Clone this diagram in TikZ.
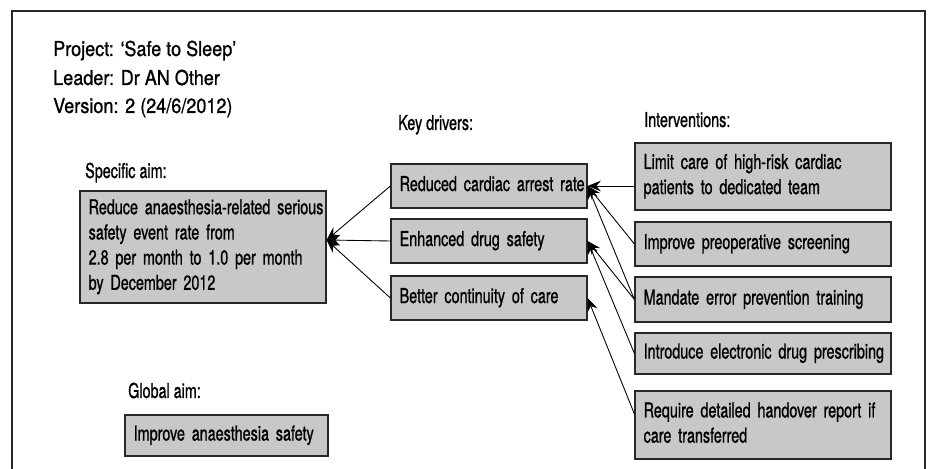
\documentclass[tikz,border=0pt]{standalone}
\usepackage{fontspec}
\setmainfont[FakeStretch=0.70,FakeBold=0.9]{TeX Gyre Heros}
\newfontfamily\headfont[FakeStretch=0.88,FakeBold=0.9]{TeX Gyre Heros}
\usepackage{tikz}
\usetikzlibrary{calc,arrows.meta}
\definecolor{boxfill}{RGB}{200,200,200}
\definecolor{edge}{RGB}{40,40,40}
% keep the given line breaks, never wrap
\newcommand{\rows}[1]{\begin{tabular}{@{}l@{}}#1\end{tabular}}

\begin{document}
\begin{tikzpicture}[>={Stealth[length=4mm,width=3.2mm,inset=1.4mm]},
  box/.style={draw=edge,line width=1pt,fill=boxfill,align=left,inner xsep=0.26cm,inner ysep=0pt,
    font=\fontsize{17.5}{21.5}\selectfont},
  lbl/.style={anchor=base west,inner sep=0pt,font=\fontsize{17.5}{21.5}\selectfont},
  head/.style={lbl,font=\headfont\fontsize{17.5}{21.5}\selectfont},
  conn/.style={->,line width=0.75pt}]
  \useasboundingbox (0,0) rectangle (28.02,14.07);
  \draw[edge,line width=1.2pt] (0.36,-0.5) -- (0.36,13.74) -- (27.75,13.74) -- (27.75,-0.5);
  % header
  \node[head] (proj) at (1.59,12.39) {Project: ‘Safe to Sleep’};
  \node[head] (lead) at (1.59,11.52) {Leader: Dr AN Other};
  \node[head] (vers) at (1.59,10.68) {Version: 2 (24/6/2012)};
  % column titles
  \node[lbl] (specT) at (2.55,8.73) {Specific aim:};
  \node[lbl] (globT) at (3.84,2.13) {Global aim:};
  \node[lbl] (drvT) at (11.94,10.17) {Key drivers:};
  \node[lbl] (intT) at (19.32,10.26) {Interventions:};
  % aims
  \node[box,text width=6.86cm,minimum height=3.36cm] (A) at (6.09,6.66)
    {\rows{Reduce anaesthesia-related serious\\safety event rate from\\2.8 per month to 1.0 per month\\by December 2012}};
  \node[box,text width=5.57cm,minimum height=1.23cm] (G) at (6.795,1.005) {\rows{Improve anaesthesia safety}};
  % key drivers
  \node[box,text width=5.36cm,minimum height=1.32cm] (D1) at (14.67,8.49) {\rows{Reduced cardiac arrest rate}};
  \node[box,text width=5.36cm,minimum height=1.32cm] (D2) at (14.67,6.84) {\rows{Enhanced drug safety}};
  \node[box,text width=5.36cm,minimum height=1.32cm] (D3) at (14.67,5.13) {\rows{Better continuity of care}};
  % interventions
  \node[box,text width=7.16cm,minimum height=2.01cm] (I1) at (22.89,8.775)
    {\rows{Limit care of high-risk cardiac\\patients to dedicated team}};
  \node[box,text width=7.16cm,minimum height=1.32cm] (I2) at (22.89,6.75) {\rows{Improve preoperative screening}};
  \node[box,text width=7.16cm,minimum height=1.35cm] (I3) at (22.89,5.085) {\rows{Mandate error prevention training}};
  \node[box,text width=7.16cm,minimum height=1.23cm] (I4) at (22.89,3.465) {\rows{Introduce electronic drug prescribing}};
  \node[box,text width=7.16cm,minimum height=2.04cm] (I5) at (22.89,1.32)
    {\rows{Require detailed handover report if\\care transferred}};
  % connectors
  \coordinate (Ain) at ($(A.east)+(0,0.21)$);
  \coordinate (I5in) at ($(I5.west)+(0,0.33)$);
  \foreach \d in {D1,D2,D3} \draw[conn] (\d.west) -- (Ain);
  \draw[conn] (I1.west |- D1.east) -- (D1.east);
  \draw[conn] (I2.west) -- (D1.east);
  \draw[conn] (I3.west) -- (D1.east);
  \draw[conn] (I3.west) -- (D2.east);
  \draw[conn] (I4.west) -- (D2.east);
  \draw[conn] (I5in) -- (D3.east);
\end{tikzpicture}
\end{document}
